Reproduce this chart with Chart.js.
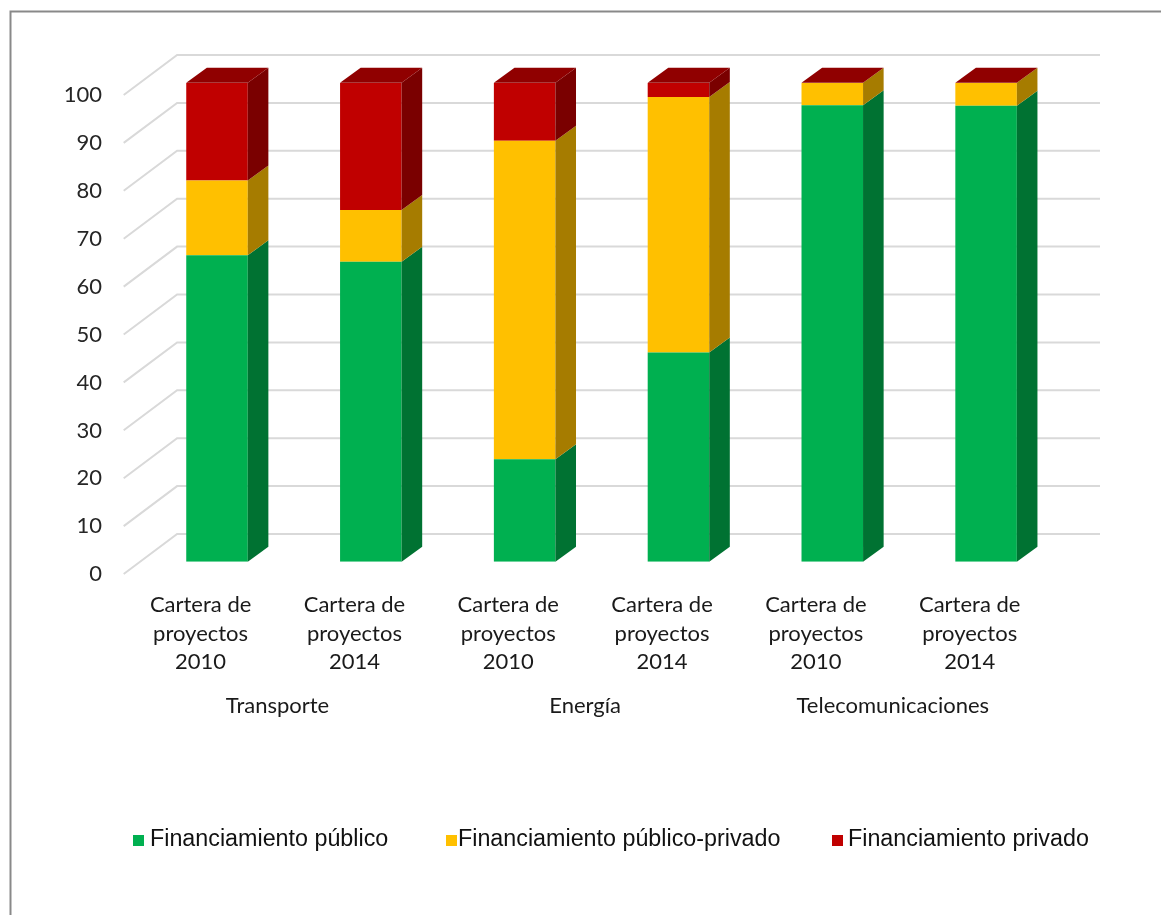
<!DOCTYPE html>
<html>
<head>
<meta charset="utf-8">
<script src="https://cdn.jsdelivr.net/npm/chart.js@4.4.1/dist/chart.umd.min.js"></script>
<style>
  html, body { margin: 0; padding: 0; background: #ffffff; }
  #wrap { width: 1161px; height: 915px; position: relative; }
</style>
</head>
<body>
<div id="wrap"><canvas id="chart"></canvas></div>
<script>
// Portfolio categories (two per sector) and sector group names
const categories = [
  ["Cartera de", "proyectos", "2010"],
  ["Cartera de", "proyectos", "2014"],
  ["Cartera de", "proyectos", "2010"],
  ["Cartera de", "proyectos", "2014"],
  ["Cartera de", "proyectos", "2010"],
  ["Cartera de", "proyectos", "2014"]
];
const sectors = ["Transporte", "Energía", "Telecomunicaciones"];

// Share of each financing type (%)
const financiamientoPublico        = [64.0, 62.6, 21.4, 43.7, 95.3, 95.2];
const financiamientoPublicoPrivado = [15.6, 10.8, 66.5, 53.3, 4.7, 4.8];
const financiamientoPrivado        = [20.4, 26.6, 12.1, 3.0, 0, 0];

const seriesNames = ["Financiamiento público", "Financiamiento público-privado", "Financiamiento privado"];
const yTickValues = [0, 10, 20, 30, 40, 50, 60, 70, 80, 90, 100];

// Face colours: front, side, top
const faceColors = [
  { front: "#00b050", side: "#007232", top: "#008a3c" },
  { front: "#ffc000", side: "#a67c00", top: "#c79600" },
  { front: "#c00000", side: "#7a0000", top: "#900000" }
];

// Oblique projection offsets relative to the bar front plane
const FLOOR_FRONT = { dx: -16.4, dy: 12.3 };
const BACK_WALL   = { dx: 37.0,  dy: -27.7 };
const BAR_DEPTH   = { dx: 20.6,  dy: -15.0 };

const LABEL_FONT = "Lato, 'Open Sans', sans-serif";
const LEGEND_FONT = "'Liberation Sans', Arial, sans-serif";

function poly(ctx, pts, color) {
  ctx.beginPath();
  ctx.moveTo(pts[0][0], pts[0][1]);
  for (let i = 1; i < pts.length; i++) ctx.lineTo(pts[i][0], pts[i][1]);
  ctx.closePath();
  ctx.fillStyle = color;
  ctx.fill();
}

const scene3d = {
  id: "scene3d",
  beforeDraw(chart) {
    const ctx = chart.ctx;
    ctx.save();
    ctx.strokeStyle = "#898989";
    ctx.lineWidth = 2;
    ctx.strokeRect(10.5, 11.5, 1200, 1000);
    ctx.restore();
  },
  beforeDatasetsDraw(chart) {
    const ctx = chart.ctx;
    const { left, right } = chart.chartArea;
    const ys = chart.scales.y;
    ctx.save();
    ctx.strokeStyle = "#d9d9d9";
    ctx.lineWidth = 2;
    ctx.lineJoin = "miter";
    yTickValues.forEach(v => {
      const py = ys.getPixelForValue(v);
      ctx.beginPath();
      ctx.moveTo(left + FLOOR_FRONT.dx, py + FLOOR_FRONT.dy);
      ctx.lineTo(left + BACK_WALL.dx, py + BACK_WALL.dy);
      ctx.lineTo(right + BACK_WALL.dx, py + BACK_WALL.dy);
      ctx.stroke();
    });
    ctx.restore();
  },
  afterDatasetsDraw(chart) {
    const ctx = chart.ctx;
    const metas = chart.data.datasets.map((d, i) => chart.getDatasetMeta(i));
    const n = chart.data.labels.length;
    ctx.save();
    for (let i = 0; i < n; i++) {
      metas.forEach((meta, di) => {
        const el = meta.data[i];
        const p = el.getProps(["x", "y", "base", "width"], true);
        const x1 = p.x + p.width / 2;
        const yTop = Math.min(p.y, p.base);
        const yBot = Math.max(p.y, p.base);
        if (yBot - yTop > 0.01) {
          poly(ctx, [
            [x1, yBot], [x1, yTop],
            [x1 + BAR_DEPTH.dx, yTop + BAR_DEPTH.dy],
            [x1 + BAR_DEPTH.dx, yBot + BAR_DEPTH.dy]
          ], faceColors[di].side);
        }
      });
      // top face on the uppermost series
      const topMeta = metas[metas.length - 1];
      const t = topMeta.data[i].getProps(["x", "y", "width"], true);
      const x0 = t.x - t.width / 2, x1 = t.x + t.width / 2;
      poly(ctx, [
        [x0, t.y], [x1, t.y],
        [x1 + BAR_DEPTH.dx, t.y + BAR_DEPTH.dy],
        [x0 + BAR_DEPTH.dx, t.y + BAR_DEPTH.dy]
      ], faceColors[metas.length - 1].top);
    }
    ctx.restore();
  },
  afterDraw(chart) {
    const ctx = chart.ctx;
    const xs = chart.scales.x;
    const area = chart.chartArea;
    ctx.save();
    // sector group labels
    ctx.font = "22px " + LABEL_FONT;
    ctx.fillStyle = "#1a1a1a";
    ctx.textAlign = "center";
    ctx.textBaseline = "middle";
    sectors.forEach((s, k) => {
      const cx = (xs.getPixelForValue(2 * k) + xs.getPixelForValue(2 * k + 1)) / 2 + FLOOR_FRONT.dx;
      ctx.fillText(s, cx, area.bottom + 144);
    });
    // legend
    ctx.font = "23.3px " + LEGEND_FONT;
    ctx.textAlign = "left";
    ctx.textBaseline = "alphabetic";
    const boxX = [133, 446, 832];
    const textX = [150, 458, 848];
    seriesNames.forEach((name, i) => {
      ctx.fillStyle = faceColors[i].front;
      ctx.fillRect(boxX[i], 835, 11, 11);
      ctx.fillStyle = "#111111";
      ctx.fillText(name, textX[i], 846);
    });
    ctx.restore();
  }
};

const ctx = document.getElementById("chart").getContext("2d");
new Chart(ctx, {
  type: "bar",
  data: {
    labels: categories,
    datasets: [
      { label: seriesNames[0], data: financiamientoPublico, backgroundColor: faceColors[0].front },
      { label: seriesNames[1], data: financiamientoPublicoPrivado, backgroundColor: faceColors[1].front },
      { label: seriesNames[2], data: financiamientoPrivado, backgroundColor: faceColors[2].front }
    ]
  },
  options: {
    responsive: true,
    maintainAspectRatio: false,
    animation: false,
    devicePixelRatio: 1,
    layout: { padding: { top: 82.7, right: 98, bottom: 0, left: 0 } },
    datasets: {
      bar: { categoryPercentage: 1.0, barPercentage: 0.4, borderWidth: 0, borderSkipped: false }
    },
    plugins: {
      legend: { display: false },
      tooltip: { enabled: false }
    },
    scales: {
      x: {
        stacked: true,
        offset: true,
        grid: { display: false, drawTicks: false },
        border: { display: false },
        afterFit: s => { s.height = 353.3; },
        ticks: {
          autoSkip: false,
          maxRotation: 0,
          minRotation: 0,
          padding: 29,
          labelOffset: FLOOR_FRONT.dx,
          color: "#1a1a1a",
          font: { family: LABEL_FONT, size: 22, lineHeight: "28.5px" }
        }
      },
      y: {
        stacked: true,
        min: 0,
        max: 100,
        grid: { display: false, drawTicks: false },
        border: { display: false },
        afterFit: s => { s.width = 140.1; },
        ticks: {
          stepSize: 10,
          padding: 38,
          labelOffset: 12.5,
          color: "#262626",
          font: { family: LABEL_FONT, size: 22 }
        }
      }
    }
  },
  plugins: [scene3d]
});
</script>
</body>
</html>
